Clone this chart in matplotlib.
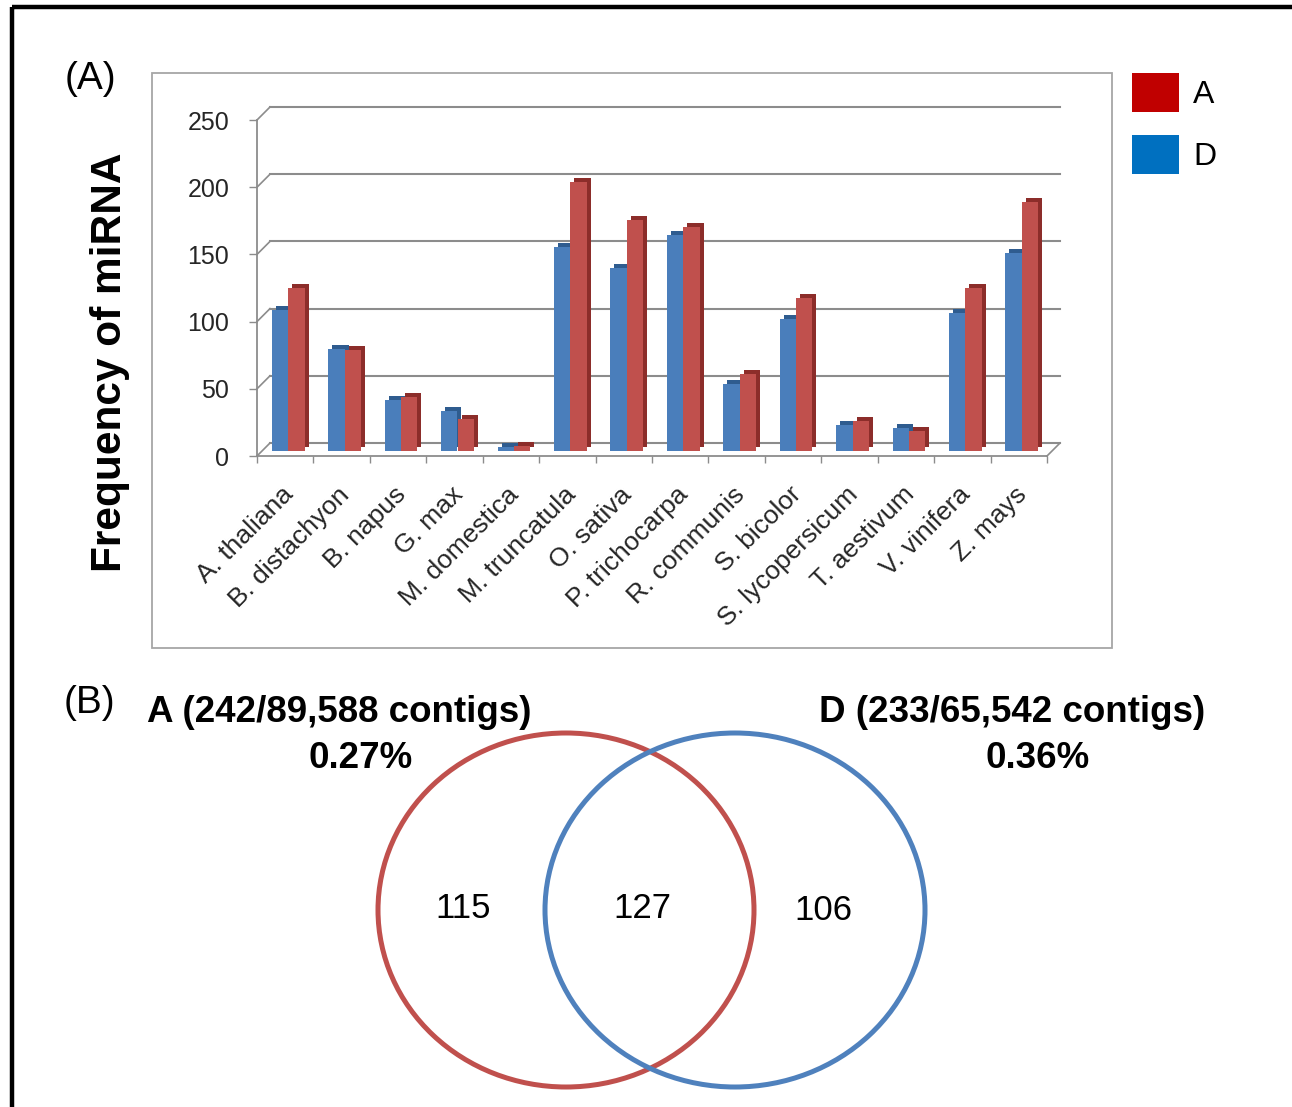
import matplotlib
matplotlib.use("Agg")
import matplotlib.pyplot as plt
import numpy as np
from matplotlib.patches import Ellipse, Rectangle, Patch
from matplotlib.transforms import ScaledTranslation

plt.rcParams['font.family'] = ['Liberation Sans', 'DejaVu Sans']

# ---- data ----
species = ["A. thaliana", "B. distachyon", "B. napus", "G. max", "M. domestica",
           "M. truncatula", "O. sativa", "P. trichocarpa", "R. communis", "S. bicolor",
           "S. lycopersicum", "T. aestivum", "V. vinifera", "Z. mays"]
a_counts = [121, 75, 40, 24, 4, 200, 172, 167, 57, 114, 22, 15, 121, 185]
d_counts = [105, 76, 38, 30, 3, 152, 136, 161, 50, 98, 19, 17, 103, 147]
y_ticks = [0, 50, 100, 150, 200, 250]

venn_only_a = 115
venn_both = 127
venn_only_d = 106
contigs_a = 89588
contigs_d = 65542

W, H = 1292, 1107
fig = plt.figure(figsize=(W / 100, H / 100), dpi=100)

# overlay in pixel coordinates for frame, chart box, venn
bg = fig.add_axes([0, 0, 1, 1], zorder=0)
bg.set_xlim(0, W)
bg.set_ylim(H, 0)
bg.axis("off")

bg.add_patch(Rectangle((12, 7), 1400, 1300, fill=False, ec="black", lw=3.2))
bg.add_patch(Rectangle((152, 73), 960, 575, fill=False, ec="#a6a6a6", lw=1.3))

bg.text(90, 79, "(A)", fontsize=28, ha="center", va="center")
bg.text(89, 703, "(B)", fontsize=28, ha="center", va="center")

# ---- bar chart (pseudo 3D, Excel style) ----
ax = fig.add_axes([257 / W, 1 - 456 / H, 790 / W, 336 / H], zorder=2)
ax.patch.set_alpha(0)
x = np.arange(len(species))
ax.set_xlim(-0.5, len(species) - 0.5)
ax.set_ylim(0, 250)

px_x = 790 / len(species)
px_y = 336 / 250
dx, dy = 13 / px_x, 13 / px_y
grey = "#8c8c8c"

# back wall gridlines + side diagonals
for t in y_ticks:
    ax.plot([-0.5 + dx, len(species) - 0.5 + dx], [t + dy, t + dy], color=grey, lw=1.5,
            clip_on=False, zorder=1)
    ax.plot([-0.5, -0.5 + dx], [t, t + dy], color=grey, lw=1.2, clip_on=False, zorder=1)
ax.plot([len(species) - 0.5, len(species) - 0.5 + dx], [0, dy], color=grey, lw=1.2,
        clip_on=False, zorder=1)

w = 0.29
front = ScaledTranslation(0.03, 0.05, fig.dpi_scale_trans)
back = ScaledTranslation(0.07, 0.09, fig.dpi_scale_trans)
for vals, off, col, dark in [(d_counts, -w / 2, "#4A7EBB", "#2F5C8F"),
                             (a_counts, w / 2, "#C0504D", "#8C2D2A")]:
    sh = ax.bar(x + off, vals, w, color=dark, zorder=2, clip_on=False)
    for p in sh:
        p.set_transform(ax.transData + back)
    fr = ax.bar(x + off, vals, w, color=col, zorder=3, clip_on=False)
    for p in fr:
        p.set_transform(ax.transData + front)

for s in ["top", "right"]:
    ax.spines[s].set_visible(False)
for s in ["left", "bottom"]:
    ax.spines[s].set_color(grey)
    ax.spines[s].set_linewidth(1.3)

ax.set_yticks(y_ticks)
ax.tick_params(axis="y", direction="out", length=6, width=1, color=grey, pad=14,
               labelsize=18, labelcolor="#262626")
ax.set_xticks(x, species)
ax.set_xticks(np.arange(len(species) + 1) - 0.5, minor=True)
ax.tick_params(axis="x", which="major", length=0, pad=19, labelsize=19, labelcolor="#262626")
ax.tick_params(axis="x", which="minor", direction="out", length=5, width=1, color=grey)
shift = ScaledTranslation(-0.04, 0.0, fig.dpi_scale_trans)
for lab in ax.get_xticklabels():
    lab.set_rotation(45)
    lab.set_ha("right")
    lab.set_va("top")
    lab.set_rotation_mode("anchor")
    lab.set_transform(lab.get_transform() + shift)

ax.set_ylabel("Frequency of miRNA", fontsize=30.5, fontweight="bold", va="center")
ax.yaxis.set_label_coords(-0.186, 0.28)

fig.legend(handles=[Patch(fc="#C00000", lw=0, label="A"), Patch(fc="#0070C0", lw=0, label="D")],
           loc="upper left", bbox_to_anchor=(1132 / W, 1 - 73 / H), frameon=False,
           fontsize=23, handlelength=47 / 32, handleheight=1.5, labelspacing=0.72,
           handletextpad=0.45, borderpad=0, borderaxespad=0)

# ---- venn diagram ----
bg.add_patch(Ellipse((566, 910), 376, 354, fill=False, ec="#C0504D", lw=3.6))
bg.add_patch(Ellipse((735, 910), 380, 354, fill=False, ec="#4F81BD", lw=3.6))
bg.text(463, 908, str(venn_only_a), fontsize=25, ha="center", va="center")
bg.text(642, 908, str(venn_both), fontsize=25, ha="center", va="center")
bg.text(823, 910, str(venn_only_d), fontsize=25, ha="center", va="center")

tot_a = venn_only_a + venn_both
tot_d = venn_only_d + venn_both
bg.text(339, 713, f"A ({tot_a}/{contigs_a:,} contigs)", fontsize=26.5, fontweight="bold",
        ha="center", va="center")
bg.text(361, 758, f"{100 * tot_a / contigs_a:.2f}%", fontsize=26.5, fontweight="bold",
        ha="center", va="center")
bg.text(1012, 713, f"D ({tot_d}/{contigs_d:,} contigs)", fontsize=26.5, fontweight="bold",
        ha="center", va="center")
bg.text(1038, 758, f"{100 * tot_d / contigs_d:.2f}%", fontsize=26.5, fontweight="bold",
        ha="center", va="center")

fig.savefig("out.png", dpi=100)
